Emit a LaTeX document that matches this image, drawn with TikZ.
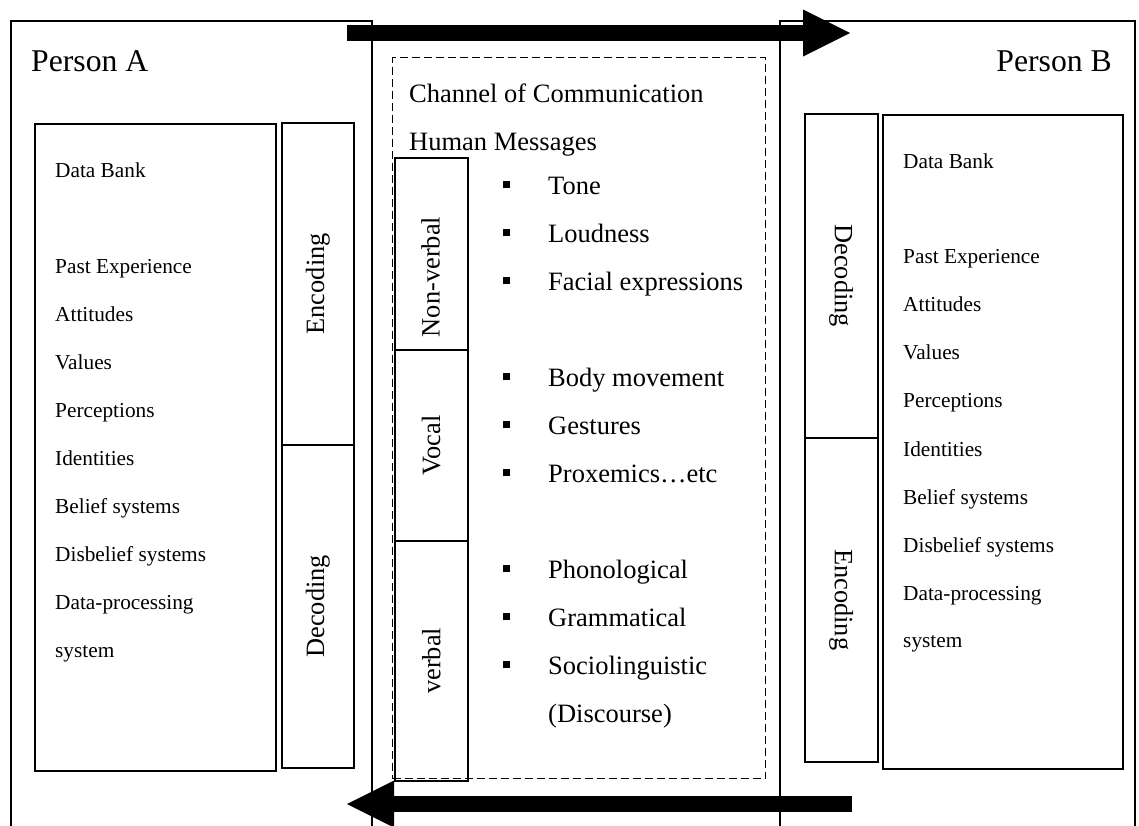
\documentclass[tikz,border=0pt]{standalone}
\usepackage{fontspec}
\setmainfont{Liberation Serif}
\usetikzlibrary{calc}
\begin{document}
\begin{tikzpicture}[x=1pt,y=-1pt,
  box/.style={draw, line width=1.5pt, rectangle, inner sep=0pt, anchor=north west},
  dbox/.style={box, line width=1.4pt, dash pattern=on 8pt off 4pt},
  small/.style={font=\fontsize{21.3}{25}\selectfont, inner sep=0pt, anchor=base west},
  med/.style={font=\fontsize{26.5}{30}\selectfont, inner sep=0pt, anchor=base west},
  big/.style={font=\fontsize{31.7}{36}\selectfont, inner sep=0pt},
  vup/.style={font=\fontsize{26.4}{30}\selectfont, inner sep=0pt, rotate=90},
  vdown/.style={font=\fontsize{26.4}{30}\selectfont, inner sep=0pt, rotate=-90},
  shaft/.style={line width=16pt},
  bul/.style={med}]
\useasboundingbox (0,0) rectangle (1139,825);
\fill[white] (0,0) rectangle (1139,825);
\clip (0,0) rectangle (1139,825);

% outer person boxes
\node[box, minimum width=361pt, minimum height=830pt] (pA) at (10,20) {};
\node[box, minimum width=355pt, minimum height=830pt] (pB) at (779,20) {};
\node[big, anchor=base west] (tA) at (31,71) {Person A};
\node[big, anchor=base east] (tB) at (1112,71) {Person B};

% Person A inner boxes
\node[box, minimum width=241pt, minimum height=647pt] (dbA) at (34,123) {};
\node[box, minimum width=72pt, minimum height=322pt] (encA) at (281,122) {};
\node[box, minimum width=72pt, minimum height=323pt] (decA) at (281,444) {};
\node[vup] (encAt) at (encA.center) {Encoding};
\node[vup] (decAt) at (decA.center) {Decoding};

\node[small] (a0) at (55,177) {Data Bank};
\node[small] (a1) at (55,273) {Past Experience};
\node[small] (a2) at (55,321) {Attitudes};
\node[small] (a3) at (55,369) {Values};
\node[small] (a4) at (55,417) {Perceptions};
\node[small] (a5) at (55,465) {Identities};
\node[small] (a6) at (55,513) {Belief systems};
\node[small] (a7) at (55,561) {Disbelief systems};
\node[small] (a8) at (55,609) {Data-processing};
\node[small] (a9) at (55,657) {system};

% Person B inner boxes
\node[box, minimum width=73pt, minimum height=324pt] (decB) at (804,113) {};
\node[box, minimum width=73pt, minimum height=324pt] (encB) at (804,437) {};
\node[box, minimum width=240pt, minimum height=654pt] (dbB) at (882,114) {};
\node[vdown] (decBt) at (decB.center) {Decoding};
\node[vdown] (encBt) at (encB.center) {Encoding};

\node[small] (b0) at (903,168) {Data Bank};
\node[small] (b1) at (903,263) {Past Experience};
\node[small] (b2) at (903,311) {Attitudes};
\node[small] (b3) at (903,359) {Values};
\node[small] (b4) at (903,407) {Perceptions};
\node[small] (b5) at (903,456) {Identities};
\node[small] (b6) at (903,504) {Belief systems};
\node[small] (b7) at (903,552) {Disbelief systems};
\node[small] (b8) at (903,600) {Data-processing};
\node[small] (b9) at (903,647) {system};

% channel
\node[dbox, minimum width=373pt, minimum height=721pt] (ch) at (392,57) {};
\node[med] (cht) at (409,102) {Channel of Communication};
\node[med] (hm) at (409,150) {Human Messages};

\node[box, minimum width=73pt, minimum height=192pt] (nv) at (394,157) {};
\node[box, minimum width=73pt, minimum height=191pt] (vo) at (394,349) {};
\node[box, minimum width=73pt, minimum height=240pt] (vb) at (394,540) {};
\node[vup] (nvt) at (430.5,277) {Non-verbal};
\node[vup] (vot) at (vo.center) {Vocal};
\node[vup] (vbt) at (vb.center) {verbal};

\newcommand{\bl}{\rule[6.5pt]{7pt}{7pt}\hspace{38pt}}
\node[bul] (i1) at (503,194) {\bl Tone};
\node[bul] (i2) at (503,242) {\bl Loudness};
\node[bul] (i3) at (503,290) {\bl Facial expressions};
\node[bul] (i4) at (503,386) {\bl Body movement};
\node[bul] (i5) at (503,434) {\bl Gestures};
\node[bul] (i6) at (503,482) {\bl Proxemics…etc};
\node[bul] (i7) at (503,578) {\bl Phonological};
\node[bul] (i8) at (503,626) {\bl Grammatical};
\node[bul] (i9) at (503,674) {\bl Sociolinguistic};
\node[med] (i10) at (548,722) {(Discourse)};

% arrows
\coordinate (topS) at (347,33);
\coordinate (topE) at (850,33);
\draw[shaft] (topS) -- ($(topE)+(-46,0)$);
\fill (topE) -- ++(-47,-23.5) -- ++(0,47) -- cycle;

\coordinate (botS) at (852,804);
\coordinate (botE) at (347,804);
\draw[shaft] (botS) -- ($(botE)+(46,0)$);
\fill (botE) -- ++(47,-23.5) -- ++(0,47) -- cycle;
\end{tikzpicture}
\end{document}
